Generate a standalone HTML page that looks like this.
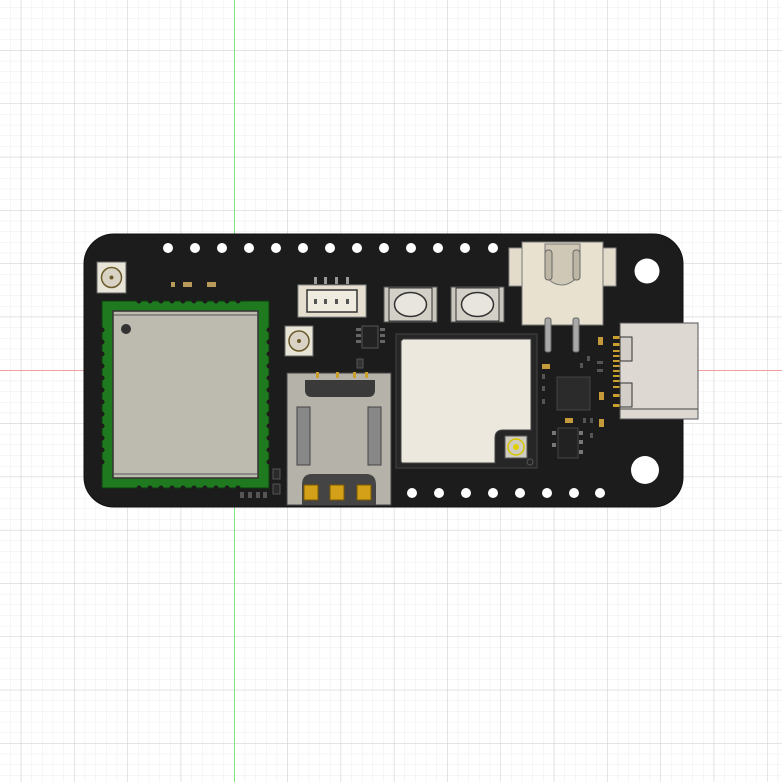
<!DOCTYPE html>
<html><head><meta charset="utf-8"><style>html,body{margin:0;padding:0;background:#fff}svg{display:block}</style></head>
<body>
<svg width="782" height="782" viewBox="0 0 782 782" xmlns="http://www.w3.org/2000/svg">
<defs>
<pattern id="minor" x="234" y="370" width="10.66" height="10.66" patternUnits="userSpaceOnUse">
<path d="M0 0H10.66M0 0V10.66" stroke="#ececec" stroke-width="1" fill="none"/>
</pattern>
<pattern id="major" x="234" y="370" width="53.3" height="53.3" patternUnits="userSpaceOnUse">
<path d="M0 0H53.3M0 0V53.3" stroke="#cfcfcf" stroke-width="1" fill="none"/>
</pattern>
</defs>
<rect width="782" height="782" fill="#fff"/>
<rect width="782" height="782" fill="url(#minor)"/>
<rect width="782" height="782" fill="url(#major)"/>
<line x1="234.5" y1="0" x2="234.5" y2="782" stroke="#7fe87f" stroke-width="1"/>
<line x1="0" y1="370.5" x2="782" y2="370.5" stroke="#f0a0a0" stroke-width="1"/>

<rect x="84" y="234" width="599" height="273" rx="30" fill="#1c1c1c" stroke="#111"/>

<g fill="#fff">
<circle cx="168" cy="248" r="5"/><circle cx="195" cy="248" r="5"/><circle cx="222" cy="248" r="5"/><circle cx="249" cy="248" r="5"/><circle cx="276" cy="248" r="5"/><circle cx="303" cy="248" r="5"/><circle cx="330" cy="248" r="5"/><circle cx="357" cy="248" r="5"/><circle cx="384" cy="248" r="5"/><circle cx="411" cy="248" r="5"/><circle cx="438" cy="248" r="5"/><circle cx="465" cy="248" r="5"/><circle cx="493" cy="248" r="5"/>
<circle cx="412" cy="493" r="5"/><circle cx="439" cy="493" r="5"/><circle cx="466" cy="493" r="5"/><circle cx="493" cy="493" r="5"/><circle cx="520" cy="493" r="5"/><circle cx="547" cy="493" r="5"/><circle cx="574" cy="493" r="5"/><circle cx="600" cy="493" r="5"/>
<circle cx="647" cy="271" r="12.5"/><circle cx="645" cy="470" r="14"/>
</g>

<rect x="102" y="301" width="167" height="187" fill="#1f7a1f" stroke="#0d3d0d"/>
<g fill="#1c1c1c">
<circle cx="139" cy="301" r="2.5"/><circle cx="150" cy="301" r="2.5"/><circle cx="161" cy="301" r="2.5"/><circle cx="172" cy="301" r="2.5"/><circle cx="183" cy="301" r="2.5"/><circle cx="194" cy="301" r="2.5"/><circle cx="205" cy="301" r="2.5"/><circle cx="216" cy="301" r="2.5"/><circle cx="227" cy="301" r="2.5"/><circle cx="238" cy="301" r="2.5"/>
<circle cx="139" cy="488" r="2.5"/><circle cx="150" cy="488" r="2.5"/><circle cx="161" cy="488" r="2.5"/><circle cx="172" cy="488" r="2.5"/><circle cx="183" cy="488" r="2.5"/><circle cx="194" cy="488" r="2.5"/><circle cx="205" cy="488" r="2.5"/><circle cx="216" cy="488" r="2.5"/><circle cx="227" cy="488" r="2.5"/><circle cx="238" cy="488" r="2.5"/>
<circle cx="102" cy="330" r="2.5"/><circle cx="102" cy="342" r="2.5"/><circle cx="102" cy="354" r="2.5"/><circle cx="102" cy="366" r="2.5"/><circle cx="102" cy="378" r="2.5"/><circle cx="102" cy="390" r="2.5"/><circle cx="102" cy="402" r="2.5"/><circle cx="102" cy="414" r="2.5"/><circle cx="102" cy="426" r="2.5"/><circle cx="102" cy="438" r="2.5"/><circle cx="102" cy="450" r="2.5"/><circle cx="102" cy="462" r="2.5"/>
<circle cx="269" cy="330" r="2.5"/><circle cx="269" cy="342" r="2.5"/><circle cx="269" cy="354" r="2.5"/><circle cx="269" cy="366" r="2.5"/><circle cx="269" cy="378" r="2.5"/><circle cx="269" cy="390" r="2.5"/><circle cx="269" cy="402" r="2.5"/><circle cx="269" cy="414" r="2.5"/><circle cx="269" cy="426" r="2.5"/><circle cx="269" cy="438" r="2.5"/><circle cx="269" cy="450" r="2.5"/><circle cx="269" cy="462" r="2.5"/>
</g>
<rect x="113" y="311" width="145" height="167" fill="#bdbab0" stroke="#333" stroke-width="1.5"/>
<line x1="113" y1="315" x2="258" y2="315" stroke="#555"/>
<line x1="113" y1="474" x2="258" y2="474" stroke="#555"/>
<circle cx="126" cy="329" r="5" fill="#333"/>

<rect x="97" y="262" width="29" height="31" fill="#e8e4d8" stroke="#666"/>
<circle cx="111.5" cy="277.5" r="10" fill="#d8d3c4" stroke="#6b5a2a" stroke-width="1.5"/>
<circle cx="111.5" cy="277.5" r="2" fill="#6b5a2a"/>
<rect x="285" y="326" width="28" height="30" fill="#e8e4d8" stroke="#666"/>
<circle cx="299" cy="341" r="10" fill="#d8d3c4" stroke="#6b5a2a" stroke-width="1.5"/>
<circle cx="299" cy="341" r="2" fill="#6b5a2a"/>

<g fill="#b89a5a"><rect x="171" y="282" width="4" height="5"/><rect x="183" y="282" width="9" height="5"/><rect x="207" y="282" width="9" height="5"/></g>
<g fill="#555"><rect x="240" y="492" width="4" height="6"/><rect x="248" y="492" width="4" height="6"/><rect x="256" y="492" width="4" height="6"/><rect x="263" y="492" width="4" height="6"/></g>
<rect x="273" y="469" width="7" height="10" fill="#2a2a2a" stroke="#555"/>
<rect x="273" y="484" width="7" height="10" fill="#2a2a2a" stroke="#555"/>

<rect x="298" y="285" width="68" height="32" fill="#e6dfcf" stroke="#888"/>
<rect x="307" y="290" width="50" height="22" fill="#f0ebdf" stroke="#333" stroke-width="1.5"/>
<g fill="#555"><rect x="314" y="299" width="3" height="5"/><rect x="324" y="299" width="3" height="5"/><rect x="335" y="299" width="3" height="5"/><rect x="346" y="299" width="3" height="5"/></g>
<g fill="#999"><rect x="314" y="277" width="3" height="7"/><rect x="324" y="277" width="3" height="7"/><rect x="335" y="277" width="3" height="7"/><rect x="346" y="277" width="3" height="7"/></g>

<rect x="362" y="326" width="16" height="22" fill="#222" stroke="#555"/>
<g fill="#666"><rect x="356" y="328" width="5" height="3"/><rect x="356" y="334" width="5" height="3"/><rect x="356" y="340" width="5" height="3"/><rect x="380" y="328" width="5" height="3"/><rect x="380" y="334" width="5" height="3"/><rect x="380" y="340" width="5" height="3"/></g>
<rect x="357" y="359" width="6" height="9" fill="#333" stroke="#555"/>

<rect x="287" y="373" width="104" height="132" fill="#b5b2aa" stroke="#444"/>
<path d="M305 380 H375 V390 Q375 397 368 397 H312 Q305 397 305 390 Z" fill="#3a3a3a"/>
<rect x="297" y="407" width="13" height="58" fill="#888" stroke="#444"/>
<rect x="368" y="407" width="13" height="58" fill="#888" stroke="#444"/>
<path d="M302 485 Q302 474 312 474 H366 Q376 474 376 485 V505 H302 Z" fill="#444"/>
<g fill="#d4a017" stroke="#7a5a00"><rect x="304" y="485" width="14" height="15"/><rect x="330" y="485" width="14" height="15"/><rect x="357" y="485" width="14" height="15"/></g>
<g fill="#c9a030"><rect x="316" y="372" width="3" height="6"/><rect x="336" y="372" width="3" height="6"/><rect x="353" y="372" width="3" height="6"/><rect x="365" y="372" width="3" height="6"/></g>

<g>
<rect x="384" y="287" width="53" height="35" fill="#c9c5bc" stroke="#555"/>
<rect x="389" y="288" width="43" height="33" fill="#d3d0c8" stroke="#333"/>
<ellipse cx="410.5" cy="304.5" rx="16" ry="12" fill="#e8e5de" stroke="#333" stroke-width="1.5"/>
<rect x="451" y="287" width="53" height="35" fill="#c9c5bc" stroke="#555"/>
<rect x="456" y="288" width="43" height="33" fill="#d3d0c8" stroke="#333"/>
<ellipse cx="477.5" cy="304.5" rx="16" ry="12" fill="#e8e5de" stroke="#333" stroke-width="1.5"/>
</g>

<rect x="509" y="248" width="107" height="38" fill="#e3dccb" stroke="#888"/>
<rect x="522" y="242" width="81" height="83" fill="#e8e1d0" stroke="#777"/>
<path d="M545 244 H580 V275 Q570 285 562 285 Q552 285 545 275 Z" fill="#cfc8b6" stroke="#777"/>
<rect x="545" y="250" width="7" height="30" rx="3" fill="#bdb6a5" stroke="#666"/>
<rect x="573" y="250" width="7" height="30" rx="3" fill="#bdb6a5" stroke="#666"/>
<rect x="545" y="318" width="6" height="34" rx="2" fill="#a8a8a8" stroke="#666"/>
<rect x="573" y="318" width="6" height="34" rx="2" fill="#a8a8a8" stroke="#666"/>

<rect x="396" y="334" width="141" height="134" fill="#262626" stroke="#444"/>
<path d="M403 339 H531 V430 H503 Q495 430 495 438 V463 H403 Q401 463 401 461 V341 Z" fill="#ece8de" stroke="#444"/>
<rect x="505" y="436" width="22" height="22" fill="#d0ccc0" stroke="#555"/>
<circle cx="516" cy="447" r="8" fill="none" stroke="#d7c400" stroke-width="1.5"/>
<circle cx="516" cy="447" r="3" fill="#e0d000"/>
<circle cx="530" cy="462" r="3" fill="none" stroke="#555"/>

<rect x="557" y="377" width="33" height="33" fill="#2b2b2b" stroke="#444"/>
<rect x="558" y="428" width="20" height="30" fill="#222" stroke="#444"/>
<g fill="#777"><rect x="552" y="431" width="4" height="4"/><rect x="552" y="443" width="4" height="4"/><rect x="579" y="431" width="4" height="4"/><rect x="579" y="440" width="4" height="4"/><rect x="579" y="450" width="4" height="4"/></g>
<g fill="#c59a3a"><rect x="598" y="337" width="5" height="8"/><rect x="599" y="392" width="5" height="8"/><rect x="599" y="419" width="5" height="8"/><rect x="542" y="364" width="8" height="5"/><rect x="565" y="418" width="8" height="5"/></g>
<g fill="#555"><rect x="542" y="374" width="3" height="5"/><rect x="542" y="386" width="3" height="5"/><rect x="542" y="399" width="3" height="5"/><rect x="580" y="363" width="3" height="5"/><rect x="587" y="356" width="3" height="5"/><rect x="597" y="361" width="6" height="3"/><rect x="597" y="369" width="6" height="3"/><rect x="583" y="418" width="3" height="5"/><rect x="590" y="418" width="3" height="5"/><rect x="590" y="433" width="3" height="5"/></g>

<g fill="#c9a030"><rect x="613" y="336" width="7" height="3"/><rect x="613" y="343" width="7" height="3"/><rect x="613" y="350" width="7" height="2"/><rect x="613" y="355" width="7" height="2"/><rect x="613" y="360" width="7" height="2"/><rect x="613" y="365" width="7" height="2"/><rect x="613" y="370" width="7" height="2"/><rect x="613" y="375" width="7" height="2"/><rect x="613" y="380" width="7" height="2"/><rect x="613" y="386" width="7" height="2"/><rect x="613" y="394" width="7" height="3"/><rect x="613" y="404" width="7" height="3"/></g>
<rect x="620" y="323" width="78" height="96" fill="#ddd9d2" stroke="#555"/>
<line x1="620" y1="409" x2="698" y2="409" stroke="#444"/>
<rect x="620" y="337" width="12" height="24" fill="#d3cfc8" stroke="#333"/>
<rect x="620" y="383" width="12" height="24" fill="#d3cfc8" stroke="#333"/>
</svg>
</body></html>
